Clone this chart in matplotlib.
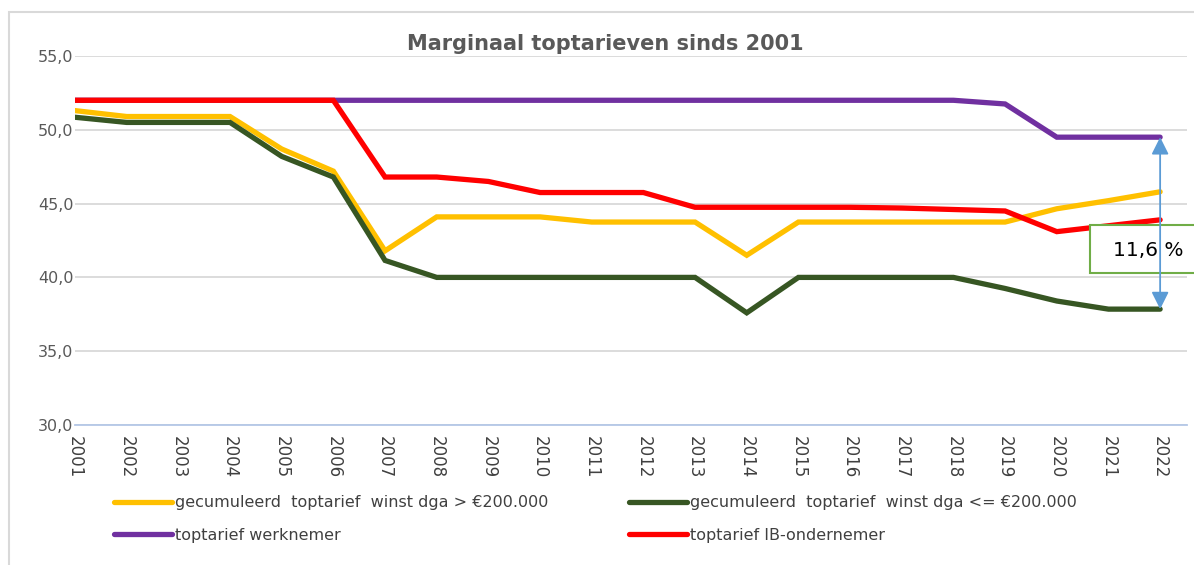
import matplotlib
matplotlib.use('Agg')
import matplotlib.pyplot as plt
from matplotlib.patches import Rectangle

years = list(range(2001, 2023))

dga_hoog = [51.3, 50.9, 50.9, 50.9, 48.7, 47.2, 41.8, 44.1, 44.1, 44.1, 43.75,
            43.75, 43.75, 41.5, 43.75, 43.75, 43.75, 43.75, 43.75, 44.65, 45.2, 45.8]
dga_laag = [50.85, 50.5, 50.5, 50.5, 48.2, 46.8, 41.15, 40.0, 40.0, 40.0, 40.0,
            40.0, 40.0, 37.6, 40.0, 40.0, 40.0, 40.0, 39.25, 38.4, 37.85, 37.85]
werknemer = [52.0] * 18 + [51.75, 49.5, 49.5, 49.5]
ib_ondernemer = [52.0, 52.0, 52.0, 52.0, 52.0, 52.0, 46.8, 46.8, 46.5, 45.75, 45.75,
                 45.75, 44.75, 44.75, 44.75, 44.75, 44.7, 44.6, 44.5, 43.1, 43.5, 43.9]

labels = ['gecumuleerd  toptarief  winst dga > €200.000',
          'gecumuleerd  toptarief  winst dga <= €200.000',
          'toptarief werknemer',
          'toptarief IB-ondernemer']
colors = ['#ffc000', '#375623', '#7030a0', '#ff0000']

title = 'Marginaal toptarieven sinds 2001'
verschil_label = '11,6 %'


def main():
    fig = plt.figure(figsize=(11.94, 5.65), dpi=100)
    ax = fig.add_axes([75 / 1194, 1 - 425 / 565, (1187 - 75) / 1194, (425 - 56) / 565])

    # chart border (cut off at right and bottom like the screenshot)
    fig.patches.append(Rectangle((9 / 1194, -0.1), 1.2, 1 - 12 / 565 + 0.1,
                                 transform=fig.transFigure, fill=False,
                                 edgecolor='#d9d9d9', linewidth=1.5))

    series = [dga_hoog, dga_laag, werknemer, ib_ondernemer]
    lines = []
    for values, col, lab in zip(series, colors, labels):
        ln, = ax.plot(years, values, color=col, linewidth=3.8, label=lab,
                      solid_capstyle='round', solid_joinstyle='miter')
        lines.append(ln)

    ax.set_xlim(2001, 2022.52)
    ax.set_ylim(30, 55)
    ax.set_yticks([30, 35, 40, 45, 50, 55])
    ax.set_yticklabels([f'{v},0' for v in [30, 35, 40, 45, 50, 55]])
    ax.set_xticks(years)
    ax.set_xticklabels([str(y) for y in years], rotation=-90, va='top')
    ax.tick_params(axis='y', length=0, pad=1, labelsize=11.5, labelcolor='#595959')
    ax.tick_params(axis='x', length=0, pad=8, labelsize=12, labelcolor='#404040')
    ax.grid(axis='y', color='#d9d9d9', linewidth=1.3)
    ax.set_axisbelow(True)
    for s in ['top', 'right', 'left']:
        ax.spines[s].set_visible(False)
    ax.spines['bottom'].set_color('#b4c7e7')
    ax.spines['bottom'].set_linewidth(1.3)

    fig.text(605 / 1194, 1 - 44 / 565, title, ha='center', va='center',
             fontsize=15, fontweight='bold', color='#595959')

    # difference marker: box under the arrow
    ax.add_patch(Rectangle((1090 / 1194, 1 - 273 / 565), 0.2, 48 / 565,
                           transform=fig.transFigure, facecolor='white',
                           edgecolor='#70ad47', linewidth=1.5, zorder=5,
                           clip_on=False))
    ax.annotate('', xy=(2022, dga_laag[-1]), xytext=(2022, werknemer[-1]),
                arrowprops=dict(arrowstyle='<|-|>', color='#5b9bd5', lw=1.3,
                                mutation_scale=26, shrinkA=0, shrinkB=0),
                zorder=7, annotation_clip=False)
    ax.text(1148 / 1194, 1 - 251 / 565, verschil_label, ha='center', va='center',
            fontsize=14.5, color='black', zorder=6, transform=fig.transFigure)

    fig.legend([lines[0], lines[2]], [labels[0], labels[2]],
               loc='upper left', bbox_to_anchor=(100 / 1194, 1 - 481 / 565),
               frameon=False, fontsize=11.5, handlelength=3.6,
               handletextpad=0.2, labelspacing=1.1, labelcolor='#404040')
    fig.legend([lines[1], lines[3]], [labels[1], labels[3]],
               loc='upper left', bbox_to_anchor=(615 / 1194, 1 - 481 / 565),
               frameon=False, fontsize=11.5, handlelength=3.6,
               handletextpad=0.2, labelspacing=1.1, labelcolor='#404040')

    fig.savefig('out.png', dpi=100)


if __name__ == '__main__':
    main()
